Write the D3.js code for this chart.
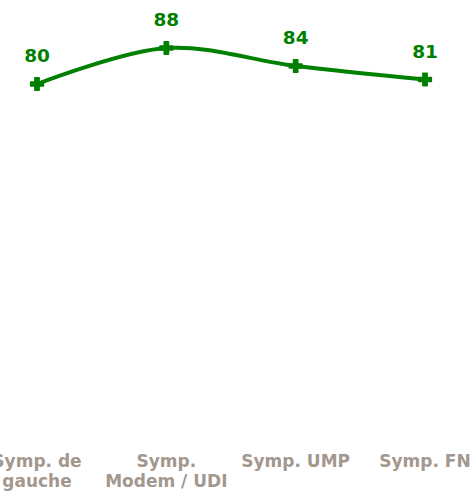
<!DOCTYPE html>
<html>
<head>
<meta charset="utf-8">
<script src="https://cdn.jsdelivr.net/npm/d3@7"></script>
<style>
  body { margin: 0; background: #fff; }
  svg { display: block; }
</style>
</head>
<body>
<div id="chart"></div>
<script>
// data
var categories = ["Symp. de gauche", "Symp. Modem / UDI", "Symp. UMP", "Symp. FN"];
var labelLines = [["Symp. de", "gauche"], ["Symp.", "Modem / UDI"], ["Symp. UMP"], ["Symp. FN"]];
var values = [80, 88, 84, 81];

var width = 475, height = 497;

var svg = d3.select("#chart")
  .append("svg")
  .attr("width", width)
  .attr("height", height);

// x: point scale, first point at ~37, last at ~425
var x = d3.scalePoint()
  .domain(categories)
  .range([37, 425]);

// y: 0 sits at ~444
var y = d3.scaleLinear()
  .domain([0, 100])
  .range([444, -6]);

var green = "#008000";
var font = "'DejaVu Sans', Verdana, sans-serif";

var line = d3.line()
  .x(function(d, i) { return x(categories[i]); })
  .y(function(d) { return y(d); })
  .curve(d3.curveCatmullRom.alpha(0.5));

svg.append("path")
  .datum(values)
  .attr("d", line)
  .attr("fill", "none")
  .attr("stroke", green)
  .attr("stroke-width", 4)
  .attr("stroke-linecap", "round");

// markers
svg.selectAll(".marker")
  .data(values)
  .enter()
  .append("path")
  .attr("class", "marker")
  .attr("transform", function(d, i) { return "translate(" + x(categories[i]) + "," + y(d) + ")"; })
  .attr("d", d3.symbol().type(d3.symbolCross).size(90))
  .attr("fill", green)
  .attr("stroke", green)
  .attr("stroke-width", 1.5)
  .attr("stroke-linejoin", "round");

// value labels
svg.selectAll(".val")
  .data(values)
  .enter()
  .append("text")
  .attr("class", "val")
  .attr("x", function(d, i) { return x(categories[i]); })
  .attr("y", function(d) { return y(d) - 22; })
  .attr("text-anchor", "middle")
  .style("font-family", font)
  .style("font-weight", "bold")
  .style("font-size", "18.5px")
  .style("fill", green)
  .text(function(d) { return d; });

// category labels
var xl = svg.selectAll(".cat")
  .data(categories)
  .enter()
  .append("text")
  .attr("class", "cat")
  .attr("x", function(d) { return x(d); })
  .attr("y", 467)
  .attr("text-anchor", "middle")
  .style("font-family", font)
  .style("font-weight", "bold")
  .style("font-size", "17px")
  .style("fill", "#a3978e");

xl.each(function(d, i) {
  var t = d3.select(this);
  labelLines[i].forEach(function(s, j) {
    t.append("tspan")
      .attr("x", x(d))
      .attr("dy", j == 0 ? 0 : 20)
      .text(s);
  });
});
</script>
</body>
</html>
